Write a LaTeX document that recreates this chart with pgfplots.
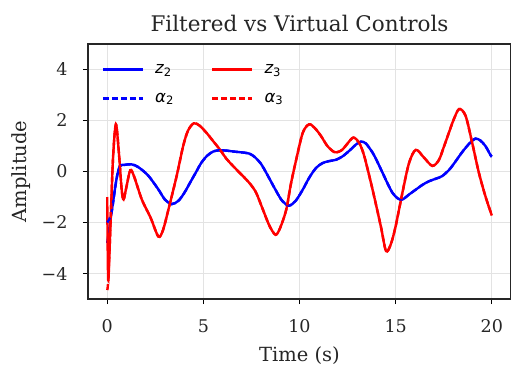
\documentclass[border=0pt]{standalone}
\usepackage{pgfplots}
\pgfplotsset{compat=1.18}
\usepackage{fontspec}
\setmainfont{DejaVu Serif}
\newfontfamily\mathsans{DejaVu Sans}
\newcommand{\lgt}[2]{{\mathsans\itshape #1\textsubscript{\upshape #2}}}

\pgfplotstableread{
t v
0 -2.8
0.22 -1.63
0.48 -0.31
0.66 0.21
0.9 0.26
1.26 0.28
1.6 0.18
2.12 -0.15
2.64 -0.68
3.0 -1.1
3.35 -1.28
3.7 -1.15
4.0 -0.85
4.3 -0.45
4.6 -0.05
4.9 0.35
5.2 0.62
5.5 0.78
5.8 0.83
6.2 0.82
6.6 0.78
7.0 0.75
7.4 0.7
7.7 0.55
8.0 0.3
8.27 -0.05
8.79 -0.77
9.1 -1.15
9.45 -1.34
9.8 -1.15
10.17 -0.71
10.5 -0.25
10.86 0.14
11.2 0.33
11.55 0.41
11.9 0.46
12.25 0.6
12.6 0.82
12.94 1.06
13.2 1.17
13.45 1.1
13.8 0.74
14.05 0.38
14.32 -0.05
14.6 -0.5
14.84 -0.84
15.1 -1.05
15.35 -1.1
15.7 -0.9
16.05 -0.71
16.4 -0.52
16.74 -0.38
17.1 -0.28
17.42 -0.18
17.8 0.08
18.12 0.4
18.4 0.7
18.64 0.93
18.9 1.15
19.15 1.29
19.4 1.22
19.67 1.0
19.93 0.65
20.0 0.58
}\ztwo

\pgfplotstableread{
t v
0 -2.0
0.22 -1.63
0.48 -0.31
0.66 0.21
0.9 0.26
1.26 0.28
1.6 0.18
2.12 -0.15
2.64 -0.68
3.0 -1.1
3.35 -1.28
3.7 -1.15
4.0 -0.85
4.3 -0.45
4.6 -0.05
4.9 0.35
5.2 0.62
5.5 0.78
5.8 0.83
6.2 0.82
6.6 0.78
7.0 0.75
7.4 0.7
7.7 0.55
8.0 0.3
8.27 -0.05
8.79 -0.77
9.1 -1.15
9.45 -1.34
9.8 -1.15
10.17 -0.71
10.5 -0.25
10.86 0.14
11.2 0.33
11.55 0.41
11.9 0.46
12.25 0.6
12.6 0.82
12.94 1.06
13.2 1.17
13.45 1.1
13.8 0.74
14.05 0.38
14.32 -0.05
14.6 -0.5
14.84 -0.84
15.1 -1.05
15.35 -1.1
15.7 -0.9
16.05 -0.71
16.4 -0.52
16.74 -0.38
17.1 -0.28
17.42 -0.18
17.8 0.08
18.12 0.4
18.4 0.7
18.64 0.93
18.9 1.15
19.15 1.29
19.4 1.22
19.67 1.0
19.93 0.65
20.0 0.58
}\alphatwo

\pgfplotstableread{
t v
0 -1.0
0.05 -4.25
0.15 -2.5
0.3 0.5
0.45 1.85
0.6 0.8
0.75 -0.7
0.85 -1.1
1.0 -0.6
1.2 0.05
1.4 -0.2
1.8 -1.1
2.25 -1.8
2.66 -2.55
2.9 -2.3
3.18 -1.5
3.61 -0.18
3.95 1.0
4.2 1.6
4.5 1.89
4.8 1.8
5.16 1.52
5.5 1.2
5.85 0.87
6.2 0.5
6.55 0.21
7.15 -0.25
7.45 -0.5
7.75 -0.84
8.1 -1.5
8.45 -2.15
8.76 -2.48
9.0 -2.2
9.31 -1.5
9.55 -0.5
9.83 0.47
10.17 1.52
10.5 1.85
10.8 1.7
11.12 1.39
11.45 1.0
11.81 0.76
12.05 0.78
12.25 0.87
12.5 1.1
12.8 1.33
13.1 1.13
13.37 0.6
13.8 -0.71
14.23 -2.15
14.5 -3.12
14.75 -2.85
15.0 -2.15
15.35 -0.84
15.7 0.34
16.05 0.85
16.48 0.54
16.91 0.22
17.25 0.45
17.5 0.95
17.77 1.52
18.0 2.0
18.3 2.45
18.64 2.18
18.98 1.13
19.33 -0.05
19.67 -0.97
20.0 -1.72
}\zthree

\pgfplotstableread{
t v
0 -4.65
0.05 -4.3
0.15 -2.5
0.3 0.5
0.45 1.85
0.6 0.8
0.75 -0.7
0.85 -1.1
1.0 -0.6
1.2 0.05
1.4 -0.2
1.8 -1.1
2.25 -1.8
2.66 -2.55
2.9 -2.3
3.18 -1.5
3.61 -0.18
3.95 1.0
4.2 1.6
4.5 1.89
4.8 1.8
5.16 1.52
5.5 1.2
5.85 0.87
6.2 0.5
6.55 0.21
7.15 -0.25
7.45 -0.5
7.75 -0.84
8.1 -1.5
8.45 -2.15
8.76 -2.48
9.0 -2.2
9.31 -1.5
9.55 -0.5
9.83 0.47
10.17 1.52
10.5 1.85
10.8 1.7
11.12 1.39
11.45 1.0
11.81 0.76
12.05 0.78
12.25 0.87
12.5 1.1
12.8 1.33
13.1 1.13
13.37 0.6
13.8 -0.71
14.23 -2.15
14.5 -3.12
14.75 -2.85
15.0 -2.15
15.35 -0.84
15.7 0.34
16.05 0.85
16.48 0.54
16.91 0.22
17.25 0.45
17.5 0.95
17.77 1.52
18.0 2.0
18.3 2.45
18.64 2.18
18.98 1.13
19.33 -0.05
19.67 -0.97
20.0 -1.72
}\alphathree

\begin{document}
\begin{tikzpicture}
\begin{axis}[
  scale only axis, width=423pt, height=255pt,
  xmin=-1, xmax=21, ymin=-5, ymax=5,
  xtick={0,5,10,15,20}, ytick={-4,-2,0,2,4},
  xticklabels={0,5,10,15,20},
  yticklabels={−4,−2,0,2,4},
  xtick pos=bottom, ytick pos=left,
  tick align=outside, major tick length=5pt,
  tick style={black, line width=1pt},
  axis line style={black!85, line width=1.6pt},
  grid=major, grid style={gray!22, line width=0.9pt},
  ticklabel style={font=\fontsize{17.5}{20}\selectfont, text=black!85},
  xticklabel style={yshift=-12pt},
  yticklabel style={xshift=-12pt},
  title={Filtered vs Virtual Controls},
  title style={font=\fontsize{21.5}{25}\selectfont, text=black!85,
    at={(axis description cs:0.5,1.0482)}, anchor=base, yshift=-6pt},
  xlabel={Time (s)}, ylabel={Amplitude},
  label style={font=\fontsize{19.5}{22}\selectfont, text=black!85},
  xlabel style={at={(axis description cs:0.5,-0.2431)}, anchor=base},
  ylabel style={at={(axis description cs:-0.1454,0.5)}, anchor=base},
  legend columns=2,
  legend style={draw=none, fill=none, at={(axis description cs:0.0247,0.936)},
    anchor=north west, font=\fontsize{16.5}{19}\selectfont,
    /tikz/every odd column/.append style={column sep=9pt},
    /tikz/every even column/.append style={column sep=35pt},
    row sep=14pt},
  legend cell align=left,
  legend image code/.code={\draw[#1, line width=2.6pt, line cap=butt] (0pt,0pt) -- (40pt,0pt);},
]
\addplot[blue, line width=2.4pt, smooth] table[x=t,y=v] {\ztwo};
\addlegendentry{\lgt{z}{2}}
\addplot[red, line width=2.4pt, smooth] table[x=t,y=v] {\zthree};
\addlegendentry{\lgt{z}{3}}
\addplot[blue, line width=2.4pt, dash pattern=on 6pt off 3pt, smooth] table[x=t,y=v] {\alphatwo};
\addlegendentry{\lgt{α}{2}}
\addplot[red, line width=2.4pt, dash pattern=on 6pt off 3pt, smooth] table[x=t,y=v] {\alphathree};
\addlegendentry{\lgt{α}{3}}
\end{axis}
\pgfresetboundingbox
\path ([xshift=-88pt,yshift=-67pt]current axis.south west) rectangle ([yshift=44pt]current axis.north east);
\end{tikzpicture}
\end{document}
